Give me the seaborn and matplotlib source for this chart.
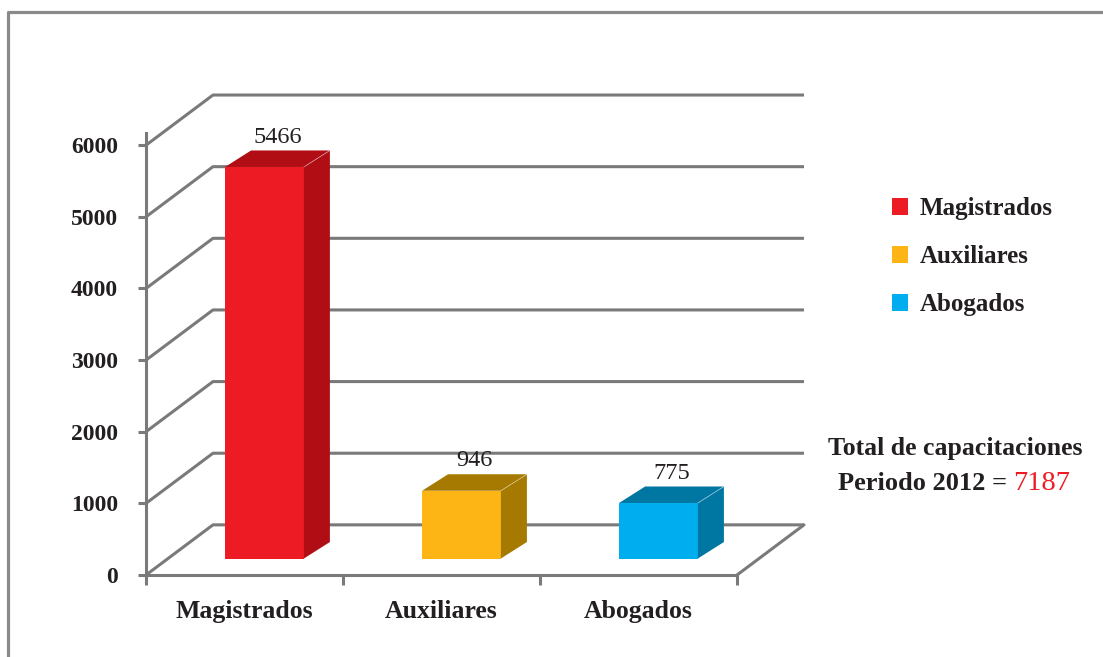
import numpy as np
import pandas as pd
import matplotlib
matplotlib.use("Agg")
import matplotlib.pyplot as plt
import seaborn as sns
from matplotlib.patches import Polygon
from matplotlib.lines import Line2D

# datos del grafico
categorias = ["Magistrados", "Auxiliares", "Abogados"]
valores = [5466, 946, 775]
total = 7187
anio = 2012
yticks = [0, 1000, 2000, 3000, 4000, 5000, 6000]

colores = ["#ED1C24", "#FCB514", "#00AEEF"]
oscuros = ["#B00D14", "#A67A00", "#0077A3"]
gris = "#7a7a7a"
negro = "#231F20"

sns.set_theme(style="white")
plt.rcParams["font.family"] = ["Liberation Serif", "DejaVu Serif"]

W, H = 1103, 657
fig = plt.figure(figsize=(W / 100, H / 100), dpi=100)

def px(x, y):
    return x / W, 1 - y / H

# marco
fig.add_artist(Line2D([8 / W, 8 / W, 1], [0, 1 - 12 / H, 1 - 12 / H],
                      transform=fig.transFigure, color="#8a8a8a", lw=2.3))

# ejes principales (plano frontal de la rejilla)
left, bottom = px(146, 575)
ax_w = 591 / W
ax_h = 442 / H
ax = fig.add_axes([left, bottom, ax_w, ax_h])
ax.set_xlim(-0.5, 2.5)
ax.set_ylim(0, 6170)
ax.patch.set_alpha(0)

# profundidad de la rejilla (en unidades de datos)
DX, DY = 0.34, 700
for v in yticks:
    ax.plot([-0.5, -0.5 + DX, 2.5 + DX], [v, v + DY, v + DY],
            color=gris, lw=2.2, clip_on=False, solid_capstyle="butt")
ax.plot([2.5, 2.5 + DX], [0, DY], color=gris, lw=2.2, clip_on=False)

for s in ["top", "right"]:
    ax.spines[s].set_visible(False)
for s in ["left", "bottom"]:
    ax.spines[s].set_color(gris)
    ax.spines[s].set_linewidth(2.2)

ax.set_yticks(yticks)
ax.set_yticklabels([str(t) for t in yticks], fontsize=17, fontweight="bold", color=negro)
ax.tick_params(axis="y", direction="out", length=6, width=2.2, color=gris, pad=14, left=True)
ax.set_xticks([-0.5, 0.5, 1.5, 2.5])
ax.set_xticklabels([])
ax.tick_params(axis="x", which="major", direction="out", length=7, width=2.2, color=gris, bottom=True)
ax.set_xticks([0, 1, 2], minor=True)
ax.set_xticklabels(categorias, minor=True, fontsize=18.5, fontweight="bold", color=negro)
ax.tick_params(axis="x", which="minor", length=0, pad=18)

# ejes de las barras (desplazados hacia el fondo)
bl, bb = px(146 + 20, 575 - 16.5)
bar_ax = fig.add_axes([bl, bb, ax_w, ax_h])
df = pd.DataFrame({"categoria": categorias, "valor": valores})
sns.barplot(data=df, x="categoria", y="valor", hue="categoria", palette=colores,
            saturation=1, width=0.40, ax=bar_ax, legend=True, edgecolor="none")
bar_ax.set_xlim(-0.5, 2.5)
bar_ax.set_ylim(0, 6170)
bar_ax.axis("off")
bar_ax.patch.set_alpha(0)

BDX, BDY = 0.132, 230
for p, c, v in zip(bar_ax.patches, oscuros, valores):
    x0, w, h = p.get_x(), p.get_width(), p.get_height()
    side = Polygon([(x0 + w, 0), (x0 + w + BDX, BDY), (x0 + w + BDX, h + BDY), (x0 + w, h)],
                   closed=True, facecolor=c, edgecolor="none")
    top = Polygon([(x0, h), (x0 + w, h), (x0 + w + BDX, h + BDY), (x0 + BDX, h + BDY)],
                  closed=True, facecolor=c, edgecolor="none")
    bar_ax.add_patch(side)
    bar_ax.add_patch(top)
    bar_ax.plot([x0 + w, x0 + w + BDX], [h, h + BDY], color="#f0f0f0", lw=0.5, alpha=0.6)
    bar_ax.annotate(str(v), xy=(x0 + w / 2 + BDX / 2, h + BDY), xytext=(0, 2),
                    textcoords="offset points", ha="center", va="bottom",
                    fontsize=17.5, color=negro, annotation_clip=False)

handles, labels = bar_ax.get_legend_handles_labels()
if bar_ax.get_legend() is not None:
    bar_ax.get_legend().remove()
bar_ax.legend(handles, labels, loc="upper left", bbox_to_anchor=px(892, 197),
              bbox_transform=fig.transFigure, frameon=False, borderpad=0, borderaxespad=0,
              handlelength=0.65, handleheight=0.65, handletextpad=0.45,
              labelspacing=1.0, prop={"size": 18, "weight": "bold"}, labelcolor=negro)

# texto del total
fig.text(*px(955, 455), "Total de capacitaciones", ha="center", va="baseline",
         fontsize=18.5, fontweight="bold", color=negro)
fig.text(*px(1007, 490), f"Periodo {anio} =", ha="right", va="baseline",
         fontsize=19, fontweight="bold", color=negro)
fig.text(*px(1013, 490), str(total), ha="left", va="baseline",
         fontsize=20.5, color="#ED1C24")

fig.savefig("out.png", dpi=100)
